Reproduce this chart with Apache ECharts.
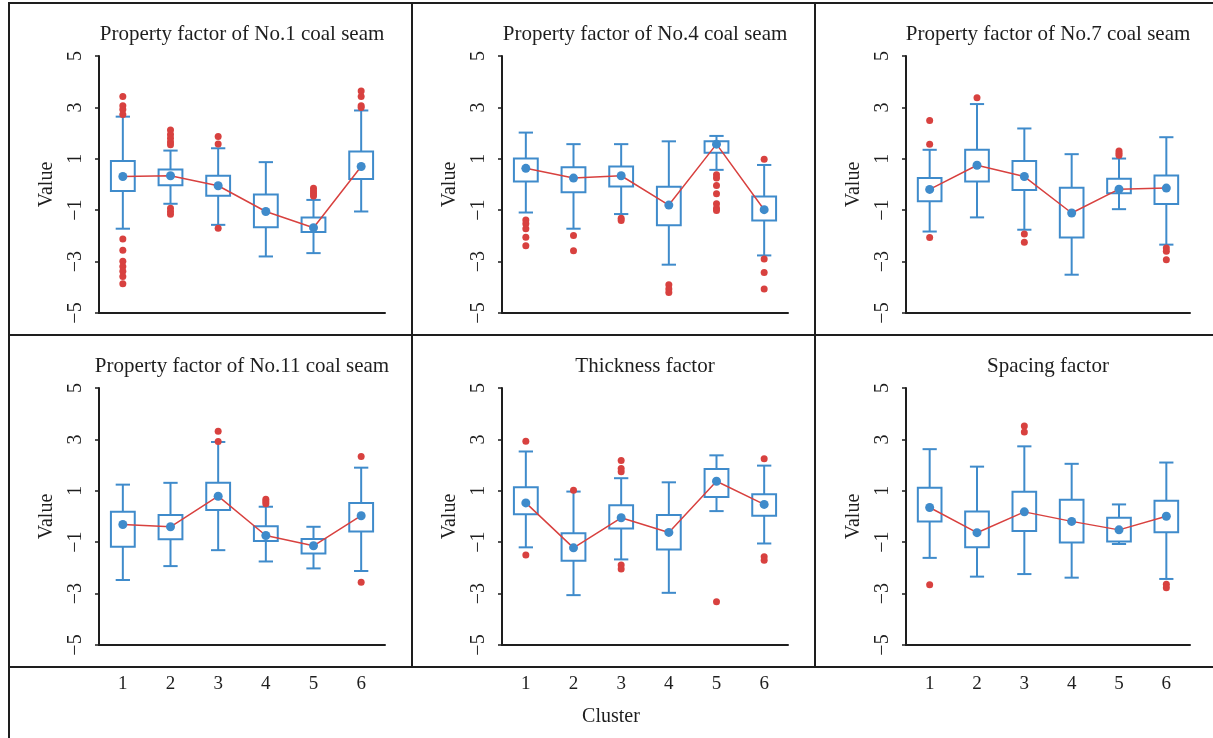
<!DOCTYPE html>
<html>
<head>
<meta charset="utf-8">
<title>Cluster factor box plots</title>
<script src="https://cdn.jsdelivr.net/npm/echarts@6/dist/echarts.min.js"></script>
<style>
  html, body { margin: 0; padding: 0; background: #fff; }
  #chart { width: 1213px; height: 738px; }
</style>
</head>
<body>
<div id="chart"></div>
<script>
// Cluster categories shared by every panel
const clusters = ['1', '2', '3', '4', '5', '6'];
const yTicks = [-5, -3, -1, 1, 3, 5];
const panelTitles = [
  'Property factor of No.1 coal seam',
  'Property factor of No.4 coal seam',
  'Property factor of No.7 coal seam',
  'Property factor of No.11 coal seam',
  'Thickness factor',
  'Spacing factor'
];

// Box statistics per cluster: [lower whisker, Q1, Q3, upper whisker]
const p1Box = [[-1.72, -0.25, 0.91, 2.64], [-0.75, -0.03, 0.58, 1.32], [-1.57, -0.44, 0.34, 1.41],
               [-2.80, -1.66, -0.39, 0.87], [-2.67, -1.85, -1.28, -0.60], [-1.05, 0.21, 1.28, 2.88]];
const p1Mean = [0.31, 0.34, -0.05, -1.05, -1.68, 0.70];
const p1Out = [[0, 3.42], [0, 3.06], [0, 2.92], [0, 2.72], [0, -2.12], [0, -2.56], [0, -2.99], [0, -3.19],
               [0, -3.38], [0, -3.58], [0, -3.86], [1, 2.12], [1, 1.95], [1, 1.80], [1, 1.65], [1, 1.55],
               [1, -0.92], [1, -1.05], [1, -1.16], [2, 1.87], [2, 1.58], [2, -1.70], [4, -0.15], [4, -0.25],
               [4, -0.35], [4, -0.45], [5, 3.64], [5, 3.42], [5, 3.06], [5, 3.00]];

const p2Box = [[-1.09, 0.12, 1.01, 2.02], [-1.72, -0.30, 0.67, 1.57], [-1.15, -0.08, 0.70, 1.57],
               [-3.12, -1.59, -0.09, 1.68], [0.57, 1.24, 1.68, 1.89], [-2.76, -1.40, -0.47, 0.76]];
const p2Mean = [0.63, 0.25, 0.34, -0.80, 1.57, -0.98];
const p2Out = [[0, -1.38], [0, -1.53], [0, -1.72], [0, -2.05], [0, -2.38], [1, -1.98], [1, -2.58],
               [2, -1.31], [2, -1.40], [3, -3.90], [3, -4.07], [3, -4.20], [4, 0.38], [4, 0.25],
               [4, -0.04], [4, -0.36], [4, -0.75], [4, -0.92], [4, -1.01], [5, 0.98], [5, -2.90],
               [5, -3.42], [5, -4.07]];

const p3Box = [[-1.83, -0.65, 0.25, 1.35], [-1.28, 0.12, 1.35, 3.13], [-1.76, -0.21, 0.91, 2.18],
               [-3.51, -2.06, -0.13, 1.18], [-0.96, -0.34, 0.22, 1.01], [-2.34, -0.76, 0.35, 1.84]];
const p3Mean = [-0.19, 0.75, 0.31, -1.11, -0.18, -0.14];
const p3Out = [[0, 2.49], [0, 1.57], [0, -2.06], [1, 3.38], [2, -1.93], [2, -2.25], [4, 1.30],
               [4, 1.22], [4, 1.14], [5, -2.47], [5, -2.60], [5, -2.93]];

const p4Box = [[-2.47, -1.18, 0.18, 1.24], [-1.93, -0.89, 0.06, 1.31], [-1.31, 0.25, 1.31, 2.90],
               [-1.75, -0.95, -0.38, 0.38], [-2.02, -1.44, -0.88, -0.40], [-2.12, -0.58, 0.53, 1.90]];
const p4Mean = [-0.31, -0.40, 0.79, -0.74, -1.14, 0.03];
const p4Out = [[2, 3.32], [2, 2.92], [3, 0.67], [3, 0.58], [3, 0.50], [5, 2.33], [5, -2.56]];

const p5Box = [[-1.20, 0.09, 1.14, 2.53], [-3.06, -1.72, -0.65, 0.97], [-1.67, -0.47, 0.44, 1.49],
               [-2.97, -1.28, 0.06, 1.33], [0.21, 0.76, 1.85, 2.38], [-1.05, 0.03, 0.87, 1.98]];
const p5Mean = [0.53, -1.22, -0.05, -0.62, 1.37, 0.47];
const p5Out = [[0, 2.93], [0, -1.50], [1, 1.02], [2, 2.18], [2, 1.87], [2, 1.74], [2, -1.89], [2, -2.04],
               [4, -3.32], [5, 2.25], [5, -1.57], [5, -1.70]];

const p6Box = [[-1.61, -0.19, 1.12, 2.62], [-2.34, -1.20, 0.19, 1.94], [-2.24, -0.56, 0.96, 2.73],
               [-2.38, -1.01, 0.65, 2.05], [-1.07, -0.97, -0.05, 0.47], [-2.43, -0.61, 0.61, 2.10]];
const p6Mean = [0.35, -0.63, 0.18, -0.19, -0.52, 0.01];
const p6Out = [[0, -2.66], [2, 3.52], [2, 3.29], [5, -2.64], [5, -2.77]];

const panelBoxes = [p1Box, p2Box, p3Box, p4Box, p5Box, p6Box];
const panelMeans = [p1Mean, p2Mean, p3Mean, p4Mean, p5Mean, p6Mean];
const panelOutliers = [p1Out, p2Out, p3Out, p4Out, p5Out, p6Out];

const BLUE = '#3f8bcb';
const RED = '#d8413f';
const INK = '#1e1e1e';
const SERIF = '"Liberation Serif", "Times New Roman", serif';

// Plot area placement for the 2 x 3 panel grid
const colLeft = [99, 502, 906];
const colWidth = [286, 286, 284];
const rowTop = [56, 388];
const plotHeight = 257;

// Box with whiskers, no median bar
function renderBox(params, api) {
  const x = api.value(0);
  const lo = api.coord([x, api.value(1)]);
  const q1 = api.coord([x, api.value(2)]);
  const q3 = api.coord([x, api.value(3)]);
  const hi = api.coord([x, api.value(4)]);
  const band = api.size([1, 0])[0];
  const bw = band * 0.5;
  const cw = band * 0.3;
  const cx = lo[0];
  const stroke = { stroke: BLUE, lineWidth: 2, fill: null };
  return {
    type: 'group',
    children: [
      { type: 'line', shape: { x1: cx, y1: hi[1], x2: cx, y2: q3[1] }, style: stroke },
      { type: 'line', shape: { x1: cx, y1: q1[1], x2: cx, y2: lo[1] }, style: stroke },
      { type: 'line', shape: { x1: cx - cw / 2, y1: hi[1], x2: cx + cw / 2, y2: hi[1] }, style: stroke },
      { type: 'line', shape: { x1: cx - cw / 2, y1: lo[1], x2: cx + cw / 2, y2: lo[1] }, style: stroke },
      { type: 'rect', shape: { x: cx - bw / 2, y: q3[1], width: bw, height: q1[1] - q3[1] },
        style: { stroke: BLUE, lineWidth: 2, fill: '#fff' } }
    ]
  };
}

const grids = [], xAxes = [], yAxes = [], titles = [], series = [];

for (let i = 0; i < 6; i++) {
  const row = Math.floor(i / 3), col = i % 3;
  const bottomRow = row === 1;
  grids.push({ left: colLeft[col], top: rowTop[row], width: colWidth[col], height: plotHeight });

  titles.push({
    text: panelTitles[i],
    left: colLeft[col] + colWidth[col] / 2,
    top: row === 0 ? 24 : 356,
    textAlign: 'center',
    padding: 0,
    textStyle: { fontFamily: SERIF, fontSize: 21, fontWeight: 'normal', color: INK }
  });

  xAxes.push({
    type: 'category',
    gridIndex: i,
    data: clusters,
    boundaryGap: true,
    axisLine: { onZero: false, lineStyle: { color: INK, width: 2 } },
    axisTick: { alignWithLabel: true, length: 6, lineStyle: { color: INK, width: 1.5 } },
    axisLabel: {
      show: bottomRow,
      margin: 30,
      fontFamily: SERIF,
      fontSize: 19,
      color: INK
    },
    splitLine: { show: false }
  });

  yAxes.push({
    type: 'value',
    gridIndex: i,
    min: -5,
    max: 5,
    name: 'Value',
    nameLocation: 'middle',
    nameRotate: 90,
    nameGap: 42,
    nameTextStyle: { fontFamily: SERIF, fontSize: 20, color: INK },
    axisLine: { show: true, onZero: false, lineStyle: { color: INK, width: 2 } },
    axisTick: { show: true, length: 4, customValues: yTicks, lineStyle: { color: INK, width: 1.5 } },
    axisLabel: {
      rotate: 90,
      margin: 13,
      customValues: yTicks,
      fontFamily: SERIF,
      fontSize: 20,
      color: INK,
      formatter: v => String(v).replace('-', '\u2212')
    },
    splitLine: { show: false }
  });

  series.push({
    type: 'custom',
    xAxisIndex: i,
    yAxisIndex: i,
    renderItem: renderBox,
    encode: { x: 0, y: [1, 2, 3, 4] },
    data: panelBoxes[i].map((b, k) => [k].concat(b)),
    z: 2
  });

  series.push({
    type: 'scatter',
    xAxisIndex: i,
    yAxisIndex: i,
    data: panelOutliers[i],
    symbol: 'circle',
    symbolSize: 7,
    itemStyle: { color: RED, opacity: 1 },
    z: 3
  });

  series.push({
    type: 'line',
    xAxisIndex: i,
    yAxisIndex: i,
    data: panelMeans[i],
    symbol: 'circle',
    symbolSize: 9,
    showSymbol: true,
    lineStyle: { color: RED, width: 1.5 },
    itemStyle: { color: BLUE, borderWidth: 0 },
    z: 4
  });
}

// Panel frame lines and the shared x-axis caption
const frameStyle = { stroke: INK, lineWidth: 2 };
const frame = [
  { type: 'line', shape: { x1: 9, y1: 3, x2: 1213, y2: 3 }, style: frameStyle },
  { type: 'line', shape: { x1: 9, y1: 335, x2: 1213, y2: 335 }, style: frameStyle },
  { type: 'line', shape: { x1: 9, y1: 667, x2: 1213, y2: 667 }, style: frameStyle },
  { type: 'line', shape: { x1: 9, y1: 2, x2: 9, y2: 738 }, style: frameStyle },
  { type: 'line', shape: { x1: 412, y1: 3, x2: 412, y2: 667 }, style: frameStyle },
  { type: 'line', shape: { x1: 815, y1: 3, x2: 815, y2: 667 }, style: frameStyle },
  { type: 'text', x: 611, y: 717,
    style: { text: 'Cluster', fontFamily: SERIF, fontSize: 20, fill: INK, align: 'center', verticalAlign: 'middle' } }
];

const chart = echarts.init(document.getElementById('chart'), null, { renderer: 'canvas' });
chart.setOption({
  backgroundColor: '#fff',
  animation: false,
  title: titles,
  grid: grids,
  xAxis: xAxes,
  yAxis: yAxes,
  series: series,
  graphic: frame
});
</script>
</body>
</html>
